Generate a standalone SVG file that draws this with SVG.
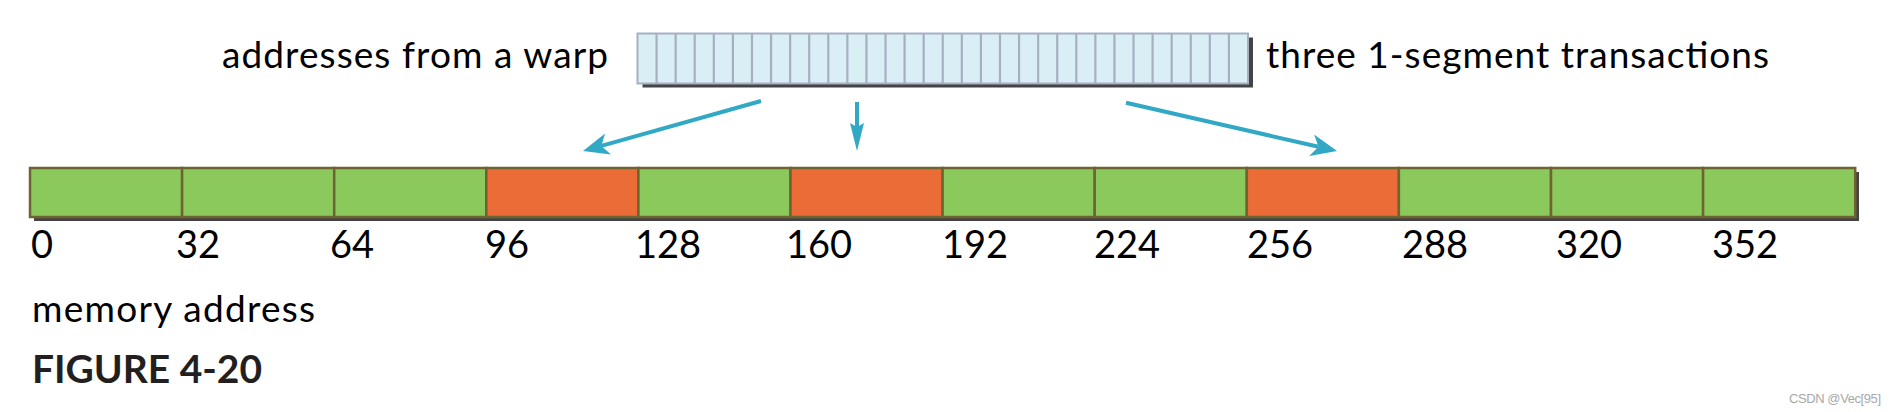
<svg xmlns="http://www.w3.org/2000/svg" width="1896" height="412" viewBox="0 0 1896 412">
<style>
.lbl{font-family:Lato,"Open Sans","Liberation Sans",sans-serif;font-size:37px;fill:#000}
.num{font-family:Lato,"Open Sans","Liberation Sans",sans-serif;font-size:38px;fill:#000}
.fig{font-family:Lato,"Open Sans","Liberation Sans",sans-serif;font-size:39px;font-weight:bold;fill:#231f20}
.wm{font-family:"Liberation Sans",Arial,sans-serif;font-size:13px;fill:#a8a8a8}
.shadow{fill:#444}
.cell{fill:#d9eef5;stroke:#a8afc3;stroke-width:2}
.div{stroke:#a8afc3;stroke-width:2.2}
.mem{stroke:#6e6431;stroke-width:2.5}
.g{fill:#8cc95d}
.o{fill:#eb6c37}
.arr{stroke:#31a8c4;stroke-width:4;fill:none}
</style>
<defs>
<marker id="ah" markerUnits="userSpaceOnUse" orient="auto" viewBox="-10 -14 34 28" refX="0" refY="0" markerWidth="34" markerHeight="28">
<path d="M19,0 L-7,-11 L0,0 L-7,11 Z" fill="#31a8c4"/>
</marker>
<marker id="ahn" markerUnits="userSpaceOnUse" orient="auto" viewBox="-10 -10 36 20" refX="0" refY="0" markerWidth="36" markerHeight="20">
<path d="M24,0 L-4,-7 L0,0 L-4,7 Z" fill="#31a8c4"/>
</marker>
</defs>

<g id="label-warp"><text class="lbl" x="222" y="68" textLength="386">addresses from a warp</text></g>
<g id="label-transactions"><text class="lbl" x="1266" y="68" textLength="503">three 1-segment transactions</text></g>

<g id="warp">
<rect class="shadow" x="642.5" y="37.5" width="610.5" height="50"/>
<rect class="cell" x="637.5" y="33.5" width="610.5" height="50"/>
<g class="div">
<line x1="656.58" y1="33.5" x2="656.58" y2="83.5"/>
<line x1="675.66" y1="33.5" x2="675.66" y2="83.5"/>
<line x1="694.73" y1="33.5" x2="694.73" y2="83.5"/>
<line x1="713.81" y1="33.5" x2="713.81" y2="83.5"/>
<line x1="732.89" y1="33.5" x2="732.89" y2="83.5"/>
<line x1="751.97" y1="33.5" x2="751.97" y2="83.5"/>
<line x1="771.05" y1="33.5" x2="771.05" y2="83.5"/>
<line x1="790.13" y1="33.5" x2="790.13" y2="83.5"/>
<line x1="809.2" y1="33.5" x2="809.2" y2="83.5"/>
<line x1="828.28" y1="33.5" x2="828.28" y2="83.5"/>
<line x1="847.36" y1="33.5" x2="847.36" y2="83.5"/>
<line x1="866.44" y1="33.5" x2="866.44" y2="83.5"/>
<line x1="885.52" y1="33.5" x2="885.52" y2="83.5"/>
<line x1="904.59" y1="33.5" x2="904.59" y2="83.5"/>
<line x1="923.67" y1="33.5" x2="923.67" y2="83.5"/>
<line x1="942.75" y1="33.5" x2="942.75" y2="83.5"/>
<line x1="961.83" y1="33.5" x2="961.83" y2="83.5"/>
<line x1="980.91" y1="33.5" x2="980.91" y2="83.5"/>
<line x1="999.98" y1="33.5" x2="999.98" y2="83.5"/>
<line x1="1019.06" y1="33.5" x2="1019.06" y2="83.5"/>
<line x1="1038.14" y1="33.5" x2="1038.14" y2="83.5"/>
<line x1="1057.22" y1="33.5" x2="1057.22" y2="83.5"/>
<line x1="1076.3" y1="33.5" x2="1076.3" y2="83.5"/>
<line x1="1095.38" y1="33.5" x2="1095.38" y2="83.5"/>
<line x1="1114.45" y1="33.5" x2="1114.45" y2="83.5"/>
<line x1="1133.53" y1="33.5" x2="1133.53" y2="83.5"/>
<line x1="1152.61" y1="33.5" x2="1152.61" y2="83.5"/>
<line x1="1171.69" y1="33.5" x2="1171.69" y2="83.5"/>
<line x1="1190.77" y1="33.5" x2="1190.77" y2="83.5"/>
<line x1="1209.84" y1="33.5" x2="1209.84" y2="83.5"/>
<line x1="1228.92" y1="33.5" x2="1228.92" y2="83.5"/>
</g>
</g>

<g id="connectors">
<line class="arr" x1="761" y1="101" x2="601.3" y2="145.9" marker-end="url(#ah)"/>
<line class="arr" x1="857" y1="102" x2="857" y2="127" marker-end="url(#ahn)"/>
<line class="arr" x1="1126" y1="102.7" x2="1318.5" y2="146.8" marker-end="url(#ah)"/>
</g>

<g id="memory">
<rect class="shadow" x="34" y="172" width="1825" height="49"/>
<g class="mem">
<rect class="g" x="30" y="168" width="152.1" height="49"/>
<rect class="g" x="182.1" y="168" width="152.1" height="49"/>
<rect class="g" x="334.2" y="168" width="152.1" height="49"/>
<rect class="o" x="486.3" y="168" width="152.1" height="49"/>
<rect class="g" x="638.4" y="168" width="152.1" height="49"/>
<rect class="o" x="790.5" y="168" width="152.1" height="49"/>
<rect class="g" x="942.6" y="168" width="152.1" height="49"/>
<rect class="g" x="1094.7" y="168" width="152.1" height="49"/>
<rect class="o" x="1246.8" y="168" width="152.1" height="49"/>
<rect class="g" x="1398.9" y="168" width="152.1" height="49"/>
<rect class="g" x="1551" y="168" width="152.1" height="49"/>
<rect class="g" x="1703.1" y="168" width="152.1" height="49"/>
</g>
</g>

<g id="addresses">
<text class="num" x="31" y="258">0</text>
<text class="num" x="176" y="258">32</text>
<text class="num" x="330" y="258">64</text>
<text class="num" x="485" y="258">96</text>
<text class="num" x="635" y="258">128</text>
<text class="num" x="786" y="258">160</text>
<text class="num" x="942" y="258">192</text>
<text class="num" x="1094" y="258">224</text>
<text class="num" x="1247" y="258">256</text>
<text class="num" x="1402" y="258">288</text>
<text class="num" x="1556" y="258">320</text>
<text class="num" x="1712" y="258">352</text>
</g>

<g id="caption">
<text class="lbl" x="32" y="322" textLength="283">memory address</text>
<text class="fig" x="32" y="383" textLength="230">FIGURE 4-20</text>
</g>
<g id="watermark"><text class="wm" x="1789" y="403" textLength="92">CSDN @Vec[95]</text></g>
</svg>
